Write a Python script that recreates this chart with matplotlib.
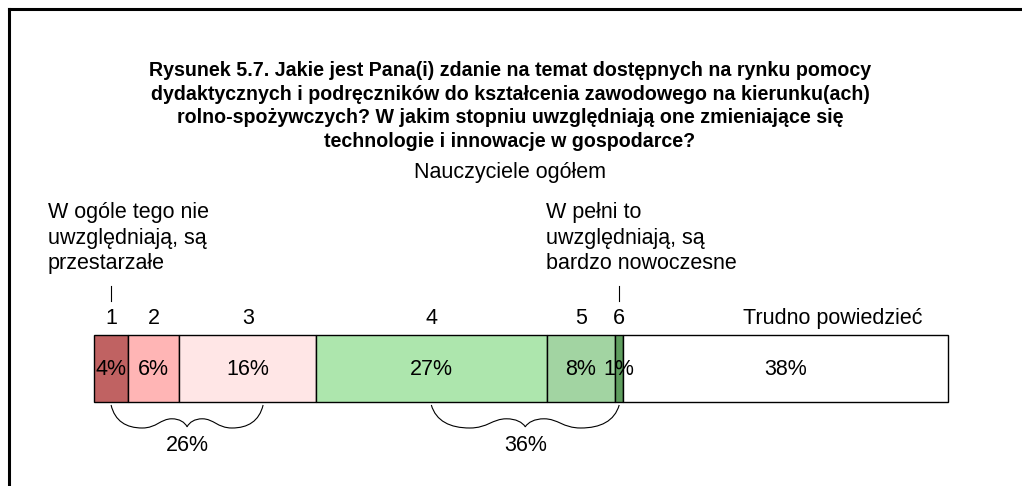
import matplotlib
matplotlib.use("Agg")
import matplotlib.pyplot as plt
import numpy as np
from matplotlib.lines import Line2D
from matplotlib.patches import PathPatch
from matplotlib.path import Path

plt.rcParams["font.family"] = ["Liberation Sans", "DejaVu Sans"]

TITLE = (
    "Rysunek 5.7. Jakie jest Pana(i) zdanie na temat dostępnych na rynku pomocy\n"
    "dydaktycznych i podręczników do kształcenia zawodowego na kierunku(ach)\n"
    "rolno-spożywczych? W jakim stopniu uwzględniają one zmieniające się\n"
    "technologie i innowacje w gospodarce?"
)
SUBTITLE = "Nauczyciele ogółem"

categories = ["1", "2", "3", "4", "5", "6", "Trudno powiedzieć"]
shares = [4, 6, 16, 27, 8, 1, 38]
colors = ["#C06262", "#FFB5B5", "#FFE6E6", "#ADE6AD", "#A2D4A2", "#5F9E5F", "#FFFFFF"]

low_label = "W ogóle tego nie\nuwzględniają, są\nprzestarzałe"
high_label = "W pełni to\nuwzględniają, są\nbardzo nowoczesne"

# groups summed under the braces: (first, last) category index
groups = [(0, 2), (3, 5)]

W, H = 1022, 486
X0, PX = 94, 8.54  # bar start (px) and px per percent
FS = 15.5


def px(x):
    return (x - X0) / PX


fig = plt.figure(figsize=(W / 100, H / 100), dpi=100)
ax = fig.add_axes([0, 0, 1, 1])
ax.set_xlim(px(0), px(W))
ax.set_ylim(H, 0)
ax.axis("off")

# outer frame (left and top edges)
fig.lines.append(Line2D([9 / W, 9 / W], [0, 1 - 9 / H], transform=fig.transFigure,
                        color="black", lw=2.2, solid_capstyle="projecting"))
fig.lines.append(Line2D([9 / W, 1], [1 - 9 / H, 1 - 9 / H], transform=fig.transFigure,
                        color="black", lw=2.2, solid_capstyle="projecting"))

ax.text(px(510), 106, TITLE, fontsize=14.1, fontweight="bold",
        ha="center", va="center", linespacing=1.33)
ax.text(px(510), 172, SUBTITLE, fontsize=FS, ha="center", va="center")

lefts = np.concatenate([[0], np.cumsum(shares)[:-1]])
centers = lefts + np.array(shares) / 2
bar_top, bar_bot = 335, 402
ax.barh((bar_top + bar_bot) / 2, shares, left=lefts, height=bar_bot - bar_top,
        color=colors, edgecolor="black", linewidth=1.0)

for c, cat, v in zip(centers[:-1], categories[:-1], shares[:-1]):
    ax.text(c, 318, cat, fontsize=FS, ha="center", va="center")
for c, v in zip(centers, shares):
    ax.text(c, 369, f"{v}%", fontsize=FS, ha="center", va="center")
ax.text(px(743), 318, categories[-1], fontsize=FS, ha="left", va="center")

# scale end descriptions with tick marks
ax.text(px(48), 238, low_label, fontsize=FS, ha="left", va="center",
        linespacing=1.26)
ax.text(px(546), 238, high_label, fontsize=FS, ha="left", va="center",
        linespacing=1.26)
for i in (0, 5):
    ax.plot([centers[i], centers[i]], [286, 301], color="black", lw=0.8)


def brace(x_left, x_right, y_top, depth):
    half = (x_right - x_left) / 2
    pts = [(0, 0), (0.05, 0.7), (0.2, 1.0), (0.41, 1.0),
           (0.6, 1.0), (0.65, 0.6), (0.8, 0.6),
           (0.9, 0.6), (0.97, 0.75), (1.0, 0.95)]
    mirrored = [(2 - qx, qy) for qx, qy in reversed(pts[:-1])]
    verts = [(x_left + qx * half, y_top + qy * depth) for qx, qy in pts + mirrored]
    codes = [Path.MOVETO] + [Path.CURVE4] * (len(verts) - 1)
    return PathPatch(Path(verts, codes), fill=False, edgecolor="black", lw=0.8)


brace_spans = [(centers[0], 19.8), (centers[3], centers[5])]
for (a, b), (lo, hi) in zip(groups, brace_spans):
    ax.add_patch(brace(lo, hi, 405, 23))
    total = sum(shares[a:b + 1])
    ax.text((lo + hi) / 2, 445, f"{total}%", fontsize=FS, ha="center", va="center")

fig.savefig("out.png", dpi=100)
